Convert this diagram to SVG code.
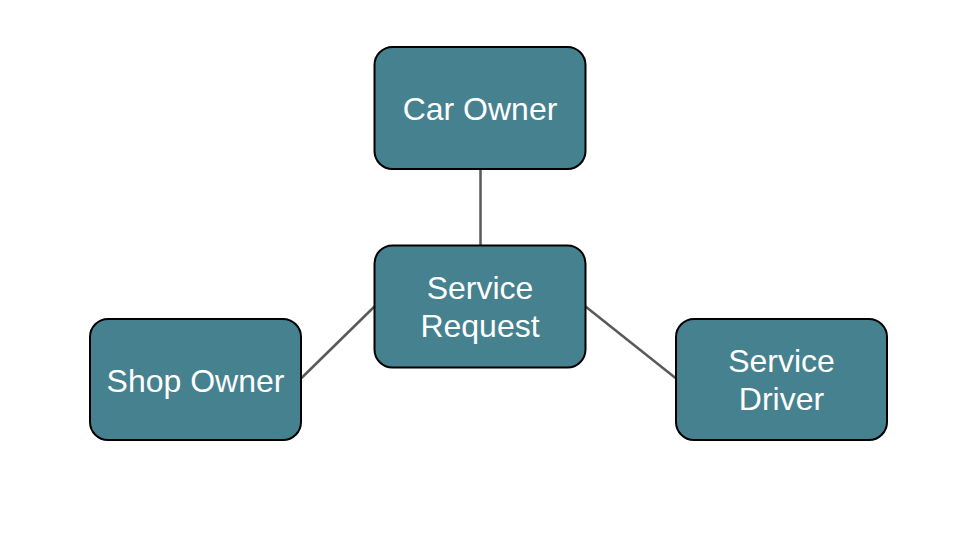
<svg xmlns="http://www.w3.org/2000/svg" width="960" height="540" viewBox="0 0 960 540">
<style>
.box{fill:#45818e;stroke:#000;stroke-width:2}
.lbl{font-family:"Liberation Sans",Arial,sans-serif;font-size:32px;fill:#fff;text-anchor:middle}
.conn{stroke:#595959;stroke-width:2.5;fill:none}
</style>
<rect width="960" height="540" fill="#fff"/>
<g id="connectors">
<line class="conn" x1="480.5" y1="169" x2="480.5" y2="245"/>
<line class="conn" x1="374.5" y1="306.5" x2="301.5" y2="378"/>
<line class="conn" x1="585.5" y1="306.5" x2="675.5" y2="378"/>
</g>
<g id="car-owner">
<rect class="box" x="374.5" y="47" width="211" height="122" rx="18"/>
<text class="lbl" x="480" y="120">Car Owner</text>
</g>
<g id="service-request">
<rect class="box" x="374.5" y="245.5" width="211" height="122" rx="18"/>
<text class="lbl" x="480" y="299">Service</text>
<text class="lbl" x="480" y="337">Request</text>
</g>
<g id="shop-owner">
<rect class="box" x="90" y="319" width="211" height="121" rx="18"/>
<text class="lbl" x="195.5" y="392">Shop Owner</text>
</g>
<g id="service-driver">
<rect class="box" x="676" y="319" width="211" height="121" rx="18"/>
<text class="lbl" x="781.5" y="372">Service</text>
<text class="lbl" x="781.5" y="410">Driver</text>
</g>
</svg>
